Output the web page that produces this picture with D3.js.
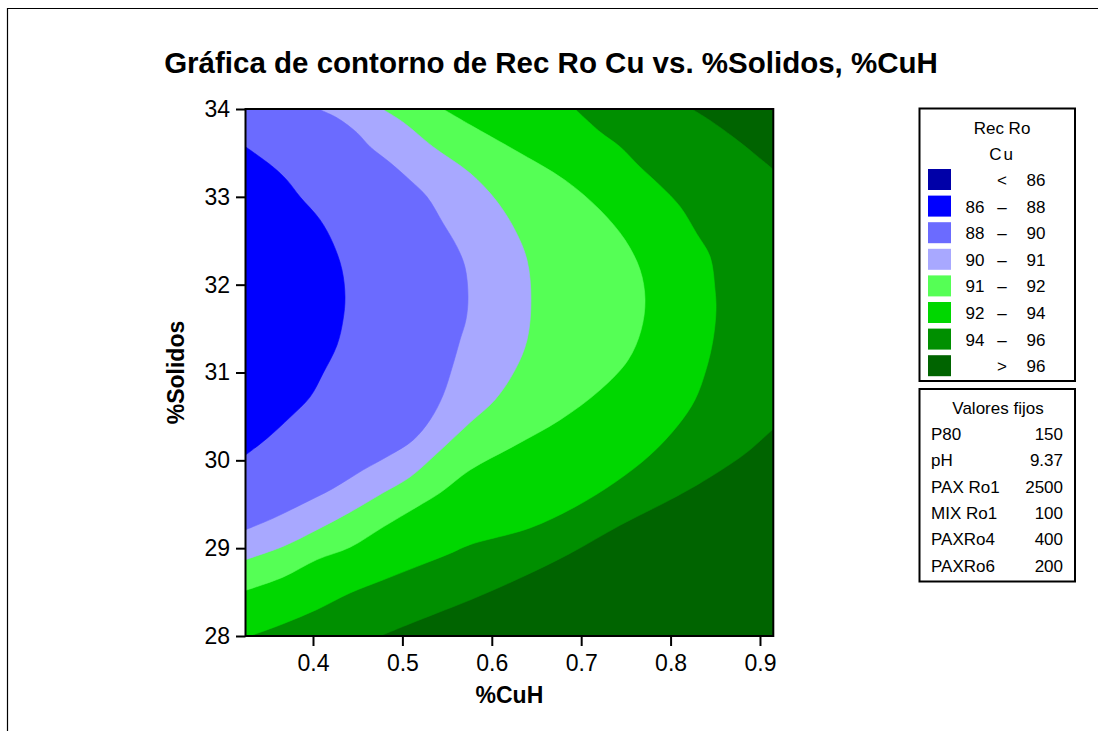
<!DOCTYPE html>
<html>
<head>
<meta charset="utf-8">
<script src="https://cdn.jsdelivr.net/npm/d3@7/dist/d3.min.js"></script>
<style>
body{margin:0;background:#fff}
svg{display:block;font-family:"Liberation Sans",Arial,sans-serif}
</style>
</head>
<body>
<svg id="chart" width="1098" height="731"></svg>
<script>
// ---- data ----
const xTicks = [0.4, 0.5, 0.6, 0.7, 0.8, 0.9];
const yTicks = [28, 29, 30, 31, 32, 33, 34];
const xDomain = [0.3245, 0.9149];
const yDomain = [28, 34];

// legend bands, low -> high
const bandLow = ['', '86', '88', '90', '91', '92', '94', ''];
const bandSign = ['<', '–', '–', '–', '–', '–', '–', '>'];
const bandHigh = ['86', '88', '90', '91', '92', '94', '96', '96'];
const bandColors = ['#0000a8', '#0000ff', '#6b6bff', '#a8a8ff', '#55ff55', '#00d700', '#008f00', '#006400'];

const fixedNames = ['P80', 'pH', 'PAX Ro1', 'MIX Ro1', 'PAXRo4', 'PAXRo6'];
const fixedValues = ['150', '9.37', '2500', '100', '400', '200'];

// contour lines [%CuH, %Solidos]
const line88 = [[0.3245,33.57],[0.3553,33.34],[0.3709,33.19],[0.3855,33.00],[0.4078,32.74],[0.4224,32.47],[0.4324,32.17],[0.4358,31.86],[0.4336,31.60],[0.4268,31.31],[0.4112,30.99],[0.3966,30.72],[0.3743,30.49],[0.3485,30.25],[0.3245,30.06]];
const line90 = [[0.4056,34.00],[0.4268,33.90],[0.4492,33.73],[0.4638,33.57],[0.4861,33.39],[0.5085,33.19],[0.5275,33.00],[0.5454,32.70],[0.5611,32.43],[0.5700,32.20],[0.5734,31.86],[0.5711,31.60],[0.5644,31.37],[0.5566,31.09],[0.5454,30.74],[0.5309,30.46],[0.5119,30.23],[0.4861,30.06],[0.4559,29.89],[0.4224,29.68],[0.3855,29.49],[0.3553,29.34],[0.3245,29.21]];
const line91 = [[0.4772,34.00],[0.5007,33.85],[0.5342,33.57],[0.5756,33.27],[0.6047,32.96],[0.6260,32.62],[0.6394,32.28],[0.6438,31.83],[0.6394,31.37],[0.6260,31.03],[0.6036,30.69],[0.5756,30.43],[0.5387,30.08],[0.5085,29.81],[0.4783,29.63],[0.4414,29.41],[0.4045,29.21],[0.3664,29.02],[0.3245,28.87]];
const line92 = [[0.5454,34.00],[0.5756,33.82],[0.6260,33.53],[0.6819,33.19],[0.7210,32.85],[0.7490,32.51],[0.7658,32.17],[0.7714,31.83],[0.7669,31.48],[0.7523,31.14],[0.7210,30.80],[0.6763,30.46],[0.6260,30.17],[0.5756,29.89],[0.5421,29.63],[0.5163,29.47],[0.4783,29.24],[0.4414,29.01],[0.4045,28.87],[0.3664,28.67],[0.3245,28.52]];
const line94 = [[0.6931,34.00],[0.7210,33.74],[0.7434,33.57],[0.7658,33.34],[0.7881,33.13],[0.8105,32.89],[0.8292,32.58],[0.8441,32.32],[0.8497,31.94],[0.8508,31.71],[0.8474,31.37],[0.8396,31.03],[0.8273,30.69],[0.8083,30.40],[0.7770,30.06],[0.7378,29.75],[0.6931,29.47],[0.6427,29.23],[0.5756,29.04],[0.5532,28.94],[0.5160,28.79],[0.4787,28.64],[0.4414,28.49],[0.4041,28.30],[0.3668,28.14],[0.3295,28.00]];
const line96top = [[0.8236,34.00],[0.8441,33.87],[0.8701,33.68],[0.8925,33.50],[0.9149,33.31]];
const line96bottom = [[0.4749,28.00],[0.5085,28.14],[0.5383,28.26],[0.5756,28.41],[0.6315,28.66],[0.6875,28.94],[0.7434,29.26],[0.7993,29.55],[0.8329,29.74],[0.8701,29.98],[0.8888,30.12],[0.9149,30.36]];

// ---- layout ----
const svg = d3.select('#chart');
const plot = {left: 245.5, top: 109, right: 773.3, bottom: 636};

const x = d3.scaleLinear().domain(xDomain).range([plot.left, plot.right]);
const y = d3.scaleLinear().domain(yDomain).range([plot.bottom, plot.top]);

// outer page frame
svg.append('path')
    .attr('d', 'M7.5,731V8.5H1098')
    .attr('fill', 'none').attr('stroke', '#000').attr('stroke-width', 1.2);

svg.append('text')
    .attr('x', 551).attr('y', 73)
    .attr('text-anchor', 'middle')
    .style('font-weight', 'bold').style('font-size', '29.5px')
    .text('Gráfica de contorno de Rec Ro Cu vs. %Solidos, %CuH');

// ---- contour bands ----
svg.append('clipPath').attr('id', 'plotClip')
    .append('rect')
    .attr('x', plot.left).attr('y', plot.top)
    .attr('width', plot.right - plot.left).attr('height', plot.bottom - plot.top);

const corner = {
    tl: [xDomain[0], yDomain[1]],
    bl: [xDomain[0], yDomain[0]]
};
const curve = d3.line().x(d => x(d[0])).y(d => y(d[1])).curve(d3.curveCatmullRom.alpha(0.5));
const toCorners = cs => cs.map(c => `L${x(c[0])},${y(c[1])}`).join('');

// region below each level (low side), painted from highest to lowest
const regions = [
    {color: bandColors[6], d: curve(line96top) + curve(line96bottom.slice().reverse()).replace(/^M/, 'L') + toCorners([corner.bl, corner.tl])},
    {color: bandColors[5], d: curve(line94) + toCorners([corner.bl, corner.tl])},
    {color: bandColors[4], d: curve(line92) + toCorners([corner.tl])},
    {color: bandColors[3], d: curve(line91) + toCorners([corner.tl])},
    {color: bandColors[2], d: curve(line90) + toCorners([corner.tl])},
    {color: bandColors[1], d: curve(line88)}
];

const g = svg.append('g').attr('clip-path', 'url(#plotClip)');
g.append('rect')
    .attr('x', plot.left).attr('y', plot.top)
    .attr('width', plot.right - plot.left).attr('height', plot.bottom - plot.top)
    .attr('fill', bandColors[7]);
g.selectAll('path.band').data(regions).join('path')
    .attr('class', 'band')
    .attr('d', d => d.d + 'Z')
    .attr('fill', d => d.color)
    .attr('stroke', d => d.color).attr('stroke-width', 0.6);

svg.append('rect')
    .attr('x', plot.left).attr('y', plot.top)
    .attr('width', plot.right - plot.left).attr('height', plot.bottom - plot.top)
    .attr('fill', 'none').attr('stroke', '#000').attr('stroke-width', 2);

// ---- axes ----
const yAxis = svg.append('g')
    .attr('transform', `translate(${plot.left},0)`)
    .call(d3.axisLeft(y).tickValues(yTicks).tickSize(9.5).tickPadding(6).tickFormat(d3.format('d')));
const xAxis = svg.append('g')
    .attr('transform', `translate(0,${plot.bottom})`)
    .call(d3.axisBottom(x).tickValues(xTicks).tickSize(10).tickPadding(9).tickFormat(d3.format('.1f')));
[xAxis, yAxis].forEach(a => {
    a.select('.domain').remove();
    a.selectAll('line').attr('stroke', '#000').attr('stroke-width', 2);
    a.selectAll('text').attr('fill', '#000')
        .style('font-size', '23px').style('font-family', '"Liberation Sans",Arial,sans-serif');
});

svg.append('text')
    .attr('x', (plot.left + plot.right) / 2).attr('y', 702.5)
    .attr('text-anchor', 'middle')
    .style('font-weight', 'bold').style('font-size', '23px')
    .text('%CuH');
svg.append('text')
    .attr('transform', `translate(184,${(plot.top + plot.bottom) / 2}) rotate(-90)`)
    .attr('text-anchor', 'middle')
    .style('font-weight', 'bold').style('font-size', '23px')
    .text('%Solidos');

// ---- legend: bands ----
const leg = svg.append('g').style('font-size', '17px');
leg.append('rect')
    .attr('x', 919.5).attr('y', 108.5).attr('width', 155.5).attr('height', 272.5)
    .attr('fill', '#fff').attr('stroke', '#000').attr('stroke-width', 2);
leg.append('text').attr('x', 1002).attr('y', 133.5).attr('text-anchor', 'middle').text('Rec Ro');
leg.append('text').attr('x', 1002).attr('y', 160).attr('text-anchor', 'middle')
    .style('letter-spacing', '2px').text('Cu');

const rows = leg.selectAll('g.row').data(bandColors).join('g')
    .attr('class', 'row')
    .attr('transform', (d, i) => `translate(0,${169 + i * 26.6})`);
rows.append('rect')
    .attr('x', 928).attr('y', 0).attr('width', 23).attr('height', 21)
    .attr('fill', d => d);
rows.append('text').attr('x', 975).attr('y', 17).attr('text-anchor', 'middle')
    .text((d, i) => bandLow[i]);
rows.append('text').attr('x', 1002).attr('y', 17).attr('text-anchor', 'middle')
    .text((d, i) => bandSign[i]);
rows.append('text').attr('x', 1036).attr('y', 17).attr('text-anchor', 'middle')
    .text((d, i) => bandHigh[i]);

// ---- legend: fixed values ----
const fix = svg.append('g').style('font-size', '17px');
fix.append('rect')
    .attr('x', 919.5).attr('y', 389).attr('width', 155.5).attr('height', 192.5)
    .attr('fill', '#fff').attr('stroke', '#000').attr('stroke-width', 2);
fix.append('text').attr('x', 998).attr('y', 414).attr('text-anchor', 'middle').text('Valores fijos');
const frows = fix.selectAll('g.frow').data(fixedNames).join('g')
    .attr('class', 'frow')
    .attr('transform', (d, i) => `translate(0,${440 + i * 26.3})`);
frows.append('text').attr('x', 931).text(d => d);
frows.append('text').attr('x', 1063).attr('text-anchor', 'end').text((d, i) => fixedValues[i]);
</script>
</body>
</html>
